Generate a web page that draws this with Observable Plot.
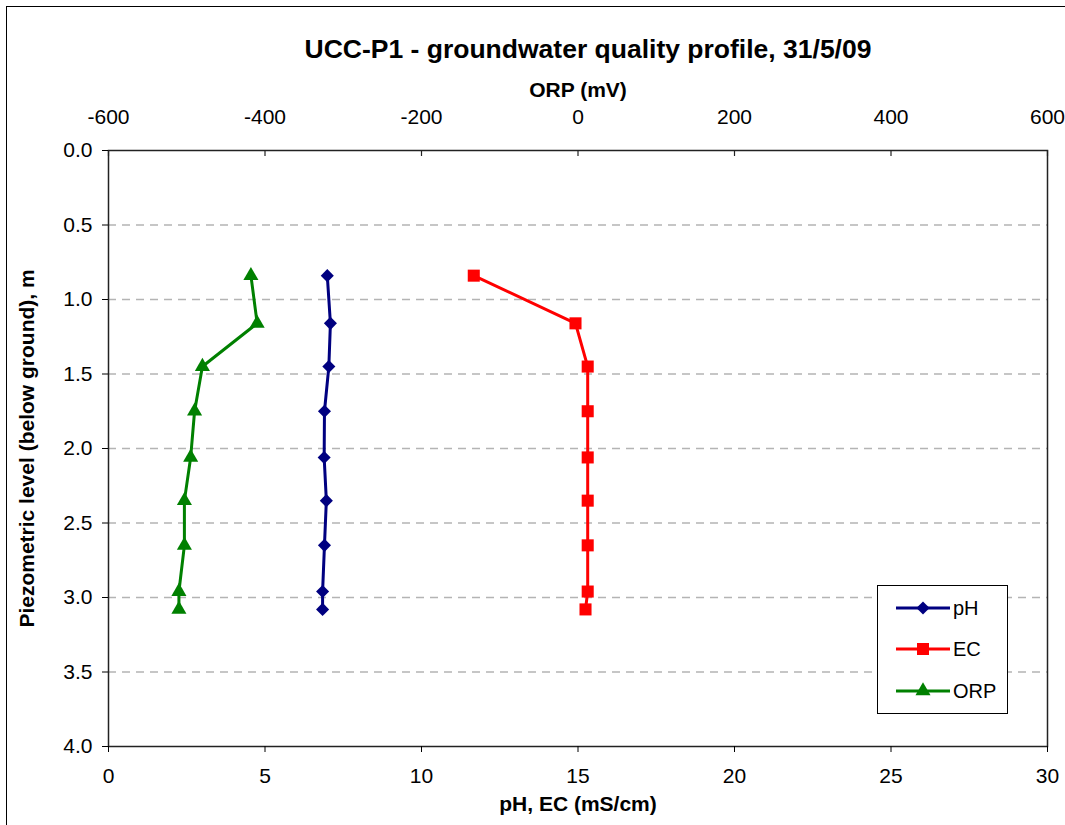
<!DOCTYPE html>
<html>
<head>
<meta charset="utf-8">
<script src="https://cdn.jsdelivr.net/npm/d3@7"></script>
<script src="https://cdn.jsdelivr.net/npm/@observablehq/plot@0.6"></script>
<style>
  html, body { margin: 0; padding: 0; background: #fff; }
  #wrap { position: relative; width: 1065px; height: 825px; overflow: hidden; font-family: "Liberation Sans", Arial, sans-serif; }
  #border { position: absolute; left: 6px; top: 6px; width: 1100px; height: 900px; border-left: 1px solid #000; border-top: 1px solid #000; box-sizing: border-box; }
  #chart { position: absolute; left: 0; top: 0; }
  #chart g[aria-label="x-axis label"], #chart g[aria-label="y-axis label"] { font-weight: bold; }
  #legend { position: absolute; left: 877px; top: 585px; width: 131px; height: 129px; border: 1px solid #000; box-sizing: border-box; background: #fff; }
  .entry { position: absolute; left: 17px; height: 20px; display: flex; align-items: center; }
  .entry span { font-size: 20px; margin-left: 2px; color: #000; }
</style>
</head>
<body>
<div id="wrap">
  <div id="border"></div>
  <div id="chart"></div>
  <div id="legend"></div>
</div>
<script>
// ---- data ----
const depth = [0.84, 1.16, 1.45, 1.75, 2.06, 2.35, 2.65, 2.96, 3.08];
const pH    = [6.99, 7.09, 7.04, 6.90, 6.89, 6.96, 6.90, 6.84, 6.84];
const EC    = [11.67, 14.92, 15.31, 15.31, 15.31, 15.31, 15.31, 15.31, 15.24];
const ORP   = [-418, -410, -480, -490, -495, -503, -503, -510, -510];

const bottomTicks = [0, 5, 10, 15, 20, 25, 30];
const orpTicks = [-600, -400, -200, 0, 200, 400, 600];
const depthTicks = [0, 0.5, 1, 1.5, 2, 2.5, 3, 3.5, 4];
const gridDepths = [0.5, 1, 1.5, 2, 2.5, 3, 3.5];

const seriesNames = ["pH", "EC", "ORP"];
const seriesColors = ["#000080", "#FF0000", "#008000"];
const seriesSymbols = ["diamond2", "square", "triangle"];

const titleText = "UCC-P1 - groundwater quality profile, 31/5/09";

// ORP (secondary, top axis) mapped onto the primary bottom scale: -600..600 -> 0..30
const orpToPrimary = v => (v + 600) / 40;
const primaryToOrp = p => Math.round(p * 40 - 600);

const rows = depth.map((d, i) => ({depth: d, pH: pH[i], EC: EC[i], ORPx: orpToPrimary(ORP[i])}));
const keys = ["pH", "EC", "ORPx"];
const radii = [5.9, 6.8, 5.6];

const marks = [
  Plot.ruleY(gridDepths, {y: d => d, stroke: "#b4b4b4", strokeWidth: 1.5, strokeDasharray: "8,6"}),
  Plot.frame({stroke: "#222", strokeWidth: 1.5}),
  Plot.ruleX(orpTicks, {x: d => orpToPrimary(d), y1: 0, y2: 0, insetBottom: -6, stroke: "#222", strokeWidth: 1.2}),
  Plot.axisX({anchor: "bottom", ticks: bottomTicks, tickSize: 6, tickPadding: 16, tickFormat: d => String(d),
              label: "pH, EC (mS/cm)", labelAnchor: "center", labelOffset: 64, labelArrow: "none", fontSize: 21}),
  Plot.axisX(orpTicks.map(orpToPrimary), {anchor: "top", tickSize: 0, tickPadding: 27, tickFormat: d => String(primaryToOrp(d)),
              label: "ORP (mV)", labelAnchor: "center", labelOffset: 68, labelArrow: "none", fontSize: 21}),
  Plot.axisY({ticks: depthTicks, tickSize: 6, tickPadding: 10, tickFormat: d3.format(".1f"),
              label: "Piezometric level (below ground), m", labelAnchor: "center", labelOffset: 89, labelArrow: "none", fontSize: 21}),
  Plot.text([titleText], {text: d => d, frameAnchor: "top", dy: -93, dx: 10, lineAnchor: "bottom",
              fontSize: 26.5, fontWeight: "bold", fill: "#000"})
];
keys.forEach((k, i) => {
  marks.push(Plot.line(rows, {x: k, y: "depth", stroke: seriesColors[i], strokeWidth: 3}));
  marks.push(Plot.dot(rows, {x: k, y: "depth", symbol: seriesSymbols[i], r: radii[i], fill: seriesColors[i], stroke: "none"}));
});

const chart = Plot.plot({
  width: 1065,
  height: 825,
  marginTop: 150,
  marginLeft: 108,
  marginRight: 18,
  marginBottom: 79,
  x: {domain: [0, 30], axis: null},
  y: {domain: [0, 4], reverse: true, axis: null},
  style: {fontFamily: "'Liberation Sans', Arial, sans-serif", fontSize: "21px", color: "#000", background: "transparent", overflow: "visible"},
  marks
});
document.getElementById("chart").appendChild(chart);

// ---- legend ----
const legend = document.getElementById("legend");
const symMap = {diamond2: d3.symbolDiamond2, square: d3.symbolSquare, triangle: d3.symbolTriangle};
const entryTops = [12, 53, 95];
seriesNames.forEach((name, i) => {
  const div = document.createElement("div");
  div.className = "entry";
  div.style.top = entryTops[i] + "px";
  const svg = d3.create("svg").attr("width", 56).attr("height", 20);
  svg.append("line").attr("x1", 1).attr("x2", 55).attr("y1", 10).attr("y2", 10)
     .attr("stroke", seriesColors[i]).attr("stroke-width", 3);
  const size = Math.PI * radii[i] * radii[i];
  svg.append("path").attr("d", d3.symbol(symMap[seriesSymbols[i]], size)())
     .attr("transform", "translate(28,10)").attr("fill", seriesColors[i]);
  div.appendChild(svg.node());
  const span = document.createElement("span");
  span.textContent = name;
  div.appendChild(span);
  legend.appendChild(div);
});
</script>
</body>
</html>
